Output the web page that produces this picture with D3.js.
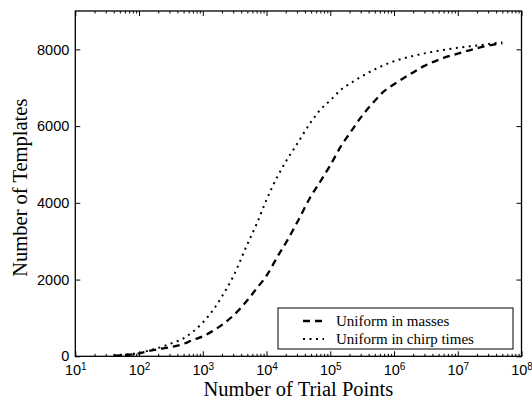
<!DOCTYPE html>
<html>
<head>
<meta charset="utf-8">
<script src="https://cdn.jsdelivr.net/npm/d3@7"></script>
<style>
  body { margin: 0; background: #fff; }
  svg { display: block; font-family: "Liberation Serif", "DejaVu Serif", serif; }
  .axis path { stroke: none; }
  .axis line { stroke: #000; stroke-width: 1; }
</style>
</head>
<body>
<div id="chart"></div>
<script>
'use strict';

// trial points (x) shared by both curves
var trialPoints = [40, 60, 100, 150, 200, 300, 500, 700, 1000, 1500, 2000, 3000, 5000, 7000,
    1e4, 1.5e4, 2e4, 3e4, 5e4, 7e4, 1e5, 1.5e5, 2e5, 3e5, 5e5, 7e5, 1e6, 2e6, 3e6, 5e6, 1e7, 2e7, 5e7];

var uniformMasses = [15, 35, 75, 145, 185, 232, 325, 425, 520, 680, 820, 1060, 1460, 1770,
    2100, 2610, 2950, 3480, 4180, 4560, 4980, 5500, 5800, 6220, 6660, 6910, 7090, 7400, 7570, 7730, 7890, 8030, 8165];

var uniformChirp = [20, 45, 85, 160, 215, 320, 470, 640, 880, 1240, 1560, 2080, 2920, 3450,
    4080, 4700, 5070, 5530, 6110, 6430, 6670, 6960, 7100, 7280, 7480, 7590, 7690, 7830, 7895, 7965, 8040, 8100, 8185];

var seriesNames = ['Uniform in masses', 'Uniform in chirp times'];
var xDecades = [1, 2, 3, 4, 5, 6, 7, 8];
var yTicks = [0, 2000, 4000, 6000, 8000];

var W = 532, H = 402;
var margin = {left: 75.3, right: 10.5, top: 11, bottom: 45.7};
var pw = W - margin.left - margin.right;
var ph = H - margin.top - margin.bottom;

var svg = d3.select('#chart').append('svg').attr('width', W).attr('height', H);
var g = svg.append('g').attr('transform', 'translate(' + margin.left + ',' + margin.top + ')');

var x = d3.scaleLog().domain([10, 1e8]).range([0, pw]);
var y = d3.scaleLinear().domain([0, 9000]).range([ph, 0]);

var majors = xDecades.map(function (e) { return Math.pow(10, e); });
var minors = [];
xDecades.slice(0, -1).forEach(function (e) {
    for (var k = 2; k <= 9; k++) minors.push(k * Math.pow(10, e));
});

function supLabel(sel) {
    sel.selectAll('.tick text').each(function (d) {
        var t = d3.select(this).text('');
        t.append('tspan').text('10');
        t.append('tspan').attr('dy', '-0.45em').style('font-size', '10px').text(Math.round(Math.log10(d)));
    });
}

// bottom axis
g.append('g').attr('class', 'axis').attr('transform', 'translate(0,' + ph + ')')
    .call(d3.axisBottom(x).tickValues(majors).tickSize(-5).tickPadding(8).tickFormat(function () { return 'x'; }))
    .call(supLabel)
    .selectAll('text').style('font-size', '14.5px').attr('fill', '#000');
g.append('g').attr('class', 'axis').attr('transform', 'translate(0,' + ph + ')')
    .call(d3.axisBottom(x).tickValues(minors).tickSize(-2.5).tickFormat(''));
// top axis
g.append('g').attr('class', 'axis')
    .call(d3.axisTop(x).tickValues(majors).tickSize(-5).tickFormat(''));
g.append('g').attr('class', 'axis')
    .call(d3.axisTop(x).tickValues(minors).tickSize(-2.5).tickFormat(''));
// left / right
g.append('g').attr('class', 'axis')
    .call(d3.axisLeft(y).tickValues(yTicks).tickSize(-5).tickPadding(6).tickFormat(d3.format('d')))
    .selectAll('text').style('font-size', '14.5px').attr('fill', '#000');
g.append('g').attr('class', 'axis').attr('transform', 'translate(' + pw + ',0)')
    .call(d3.axisRight(y).tickValues(yTicks).tickSize(-5).tickFormat(''));

// frame
g.append('rect').attr('width', pw).attr('height', ph)
    .attr('fill', 'none').attr('stroke', '#000').attr('stroke-width', 1.3);

var line = d3.line()
    .x(function (d) { return x(d[0]); })
    .y(function (d) { return y(d[1]); })
    .curve(d3.curveMonotoneX);

var styles = [
    {dash: '7,5', width: 2.3},
    {dash: '2,4.5', width: 2}
];
[uniformMasses, uniformChirp].forEach(function (vals, i) {
    g.append('path')
        .datum(d3.zip(trialPoints, vals))
        .attr('d', line)
        .attr('fill', 'none')
        .attr('stroke', '#000')
        .attr('stroke-width', styles[i].width)
        .attr('stroke-dasharray', styles[i].dash);
});

// legend
var lg = svg.append('g').attr('transform', 'translate(278,308)');
lg.append('rect').attr('width', 235).attr('height', 41)
    .attr('fill', '#fff').attr('stroke', '#000').attr('stroke-width', 1);
seriesNames.forEach(function (name, i) {
    var yy = 13 + i * 18;
    lg.append('line').attr('x1', 25).attr('x2', 46).attr('y1', yy).attr('y2', yy)
        .attr('stroke', '#000').attr('stroke-width', styles[i].width)
        .attr('stroke-dasharray', styles[i].dash);
    lg.append('text').attr('x', 58).attr('y', yy + 5)
        .style('font-size', '15px').text(name);
});

// axis titles
svg.append('text').attr('x', margin.left + pw / 2).attr('y', 396)
    .attr('text-anchor', 'middle').style('font-size', '20.5px')
    .text('Number of Trial Points');
svg.append('text').attr('transform', 'translate(27,' + (margin.top + ph / 2 + 4) + ') rotate(-90)')
    .attr('text-anchor', 'middle').style('font-size', '20.5px')
    .text('Number of Templates');
</script>
</body>
</html>
